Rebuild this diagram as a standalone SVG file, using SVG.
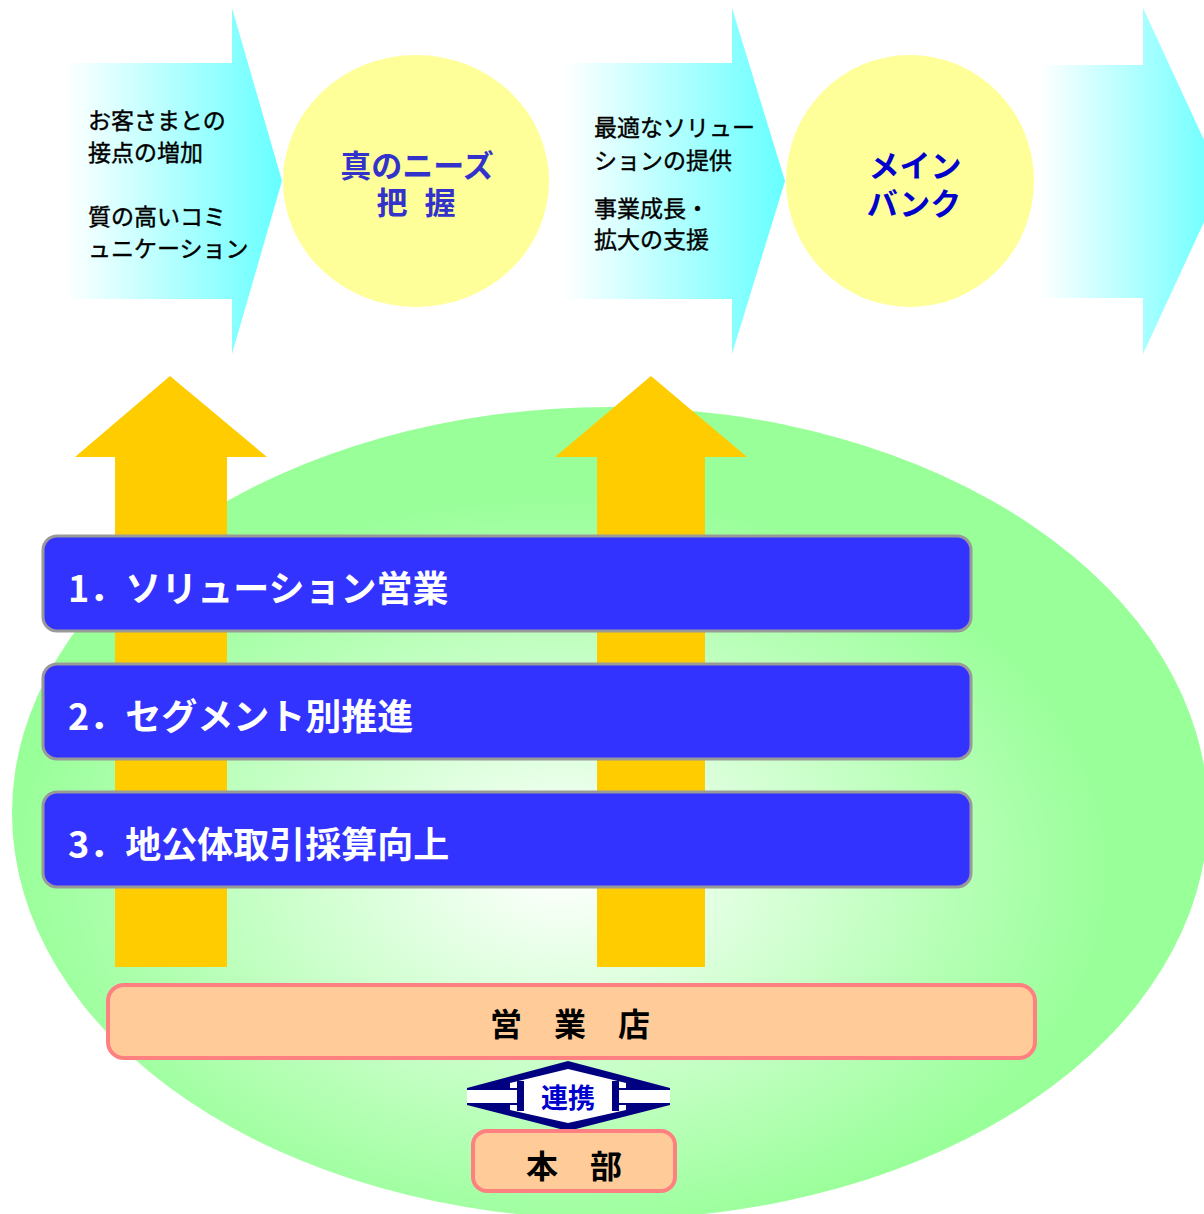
<svg xmlns="http://www.w3.org/2000/svg" width="1204" height="1214" viewBox="0 0 1204 1214">
<defs>
<style>
text{font-family:"Noto Sans CJK JP","Noto Sans",sans-serif}
.t{font-size:23px;fill:#000;stroke:#000;stroke-width:0.4}
.c1{font-size:31px;font-weight:bold;fill:#3333CC;text-anchor:middle}
.c2{font-size:31px;font-weight:bold;fill:#0000CC;text-anchor:middle}
.bar{fill:#3333FF;stroke:#999999;stroke-width:3}
.bt{font-size:36px;font-weight:bold;fill:#FFFFFF}
.org{fill:#FFCC99;stroke:#FF8080;stroke-width:4}
.ot{font-size:32px;font-weight:bold;fill:#000;text-anchor:middle}
.yel{fill:#FFCC00}
.navy{fill:#000080}
</style>
<radialGradient id="gEll" cx="0.46" cy="0.57" r="0.46" gradientUnits="objectBoundingBox">
<stop offset="0" stop-color="#FFFFFF"/>
<stop offset="1" stop-color="#99FF99"/>
</radialGradient>
<linearGradient id="gA1" gradientUnits="userSpaceOnUse" x1="65" y1="0" x2="282" y2="0">
<stop offset="0" stop-color="#FFFFFF"/>
<stop offset="1" stop-color="#66FFFF"/>
</linearGradient>
<linearGradient id="gA2" gradientUnits="userSpaceOnUse" x1="564" y1="0" x2="785" y2="0">
<stop offset="0" stop-color="#FFFFFF"/>
<stop offset="1" stop-color="#66FFFF"/>
</linearGradient>
<linearGradient id="gA3" gradientUnits="userSpaceOnUse" x1="1040" y1="0" x2="1223" y2="0">
<stop offset="0" stop-color="#FFFFFF"/>
<stop offset="1" stop-color="#66FFFF"/>
</linearGradient>
</defs>
<rect width="1204" height="1214" fill="#FFFFFF"/>

<g id="background">
<ellipse cx="610" cy="813" rx="598" ry="406" fill="url(#gEll)"/>
</g>

<g id="step1-arrow">
<polygon points="65,63 232,63 232,8 282,181 232,354 232,299 65,299" fill="url(#gA1)"/>
<text class="t" x="88" y="129">お客さまとの</text>
<text class="t" x="88" y="161">接点の増加</text>
<text class="t" x="88" y="225">質の高いコミ</text>
<text class="t" x="88" y="257">ュニケーション</text>
</g>

<g id="needs-circle">
<ellipse cx="416" cy="181" rx="133" ry="126" fill="#FFFF99"/>
<text class="c1" x="417" y="177">真のニーズ</text>
<text class="c1" x="416" y="214" word-spacing="10">把 握</text>
</g>

<g id="step2-arrow">
<polygon points="564,63 732,63 732,8 785,181 732,354 732,299 564,299" fill="url(#gA2)"/>
<text class="t" x="594" y="136">最適なソリュー</text>
<text class="t" x="594" y="169">ションの提供</text>
<text class="t" x="594" y="217">事業成長・</text>
<text class="t" x="594" y="248">拡大の支援</text>
</g>

<g id="mainbank-circle">
<ellipse cx="910" cy="181" rx="124" ry="126" fill="#FFFF99"/>
<text class="c2" x="915" y="177">メイン</text>
<text class="c2" x="914" y="215">バンク</text>
</g>

<g id="step3-arrow">
<polygon points="1040,65 1143,65 1143,8 1223,181 1143,354 1143,298 1040,298" fill="url(#gA3)"/>
</g>

<g id="connectors">
<polygon class="yel" points="115,967 115,457 75,457 170,376 267,457 227,457 227,967"/>
<polygon class="yel" points="597,967 597,457 555,457 651,376 747,457 705,457 705,967"/>
<g id="renkei">
<polygon class="navy" points="568,1061 670,1088 670,1105 568,1131 467,1105 467,1088"/>
<rect x="467" y="1090" width="203" height="13" fill="#FFFFFF"/>
<polygon points="568,1069 626,1083 626,1110 568,1123 510,1110 510,1083" fill="#FFFFFF"/>
<rect x="517" y="1081" width="7" height="30" class="navy"/>
<rect x="612" y="1081" width="7" height="30" class="navy"/>
<rect x="467" y="1088" width="52" height="2" class="navy"/>
<rect x="467" y="1103" width="52" height="2" class="navy"/>
<rect x="617" y="1088" width="53" height="2" class="navy"/>
<rect x="617" y="1103" width="53" height="2" class="navy"/>
<text x="568" y="1108" font-size="27" font-weight="bold" fill="#0000CC" text-anchor="middle">連携</text>
</g>
</g>

<g id="bar1">
<rect class="bar" x="43" y="536" width="928" height="95" rx="14"/>
<text class="bt" x="68" y="602">1．ソリューション営業</text>
</g>
<g id="bar2">
<rect class="bar" x="43" y="664" width="928" height="95" rx="14"/>
<text class="bt" x="68" y="730">2．セグメント別推進</text>
</g>
<g id="bar3">
<rect class="bar" x="43" y="792" width="928" height="95" rx="14"/>
<text class="bt" x="68" y="858">3．地公体取引採算向上</text>
</g>

<g id="branch">
<rect class="org" x="108" y="985" width="927" height="73" rx="16"/>
<text class="ot" x="570" y="1036">営　業　店</text>
</g>

<g id="headquarters">
<rect class="org" x="473" y="1131" width="202" height="60" rx="14"/>
<text class="ot" x="574" y="1178">本　部</text>
</g>
</svg>
